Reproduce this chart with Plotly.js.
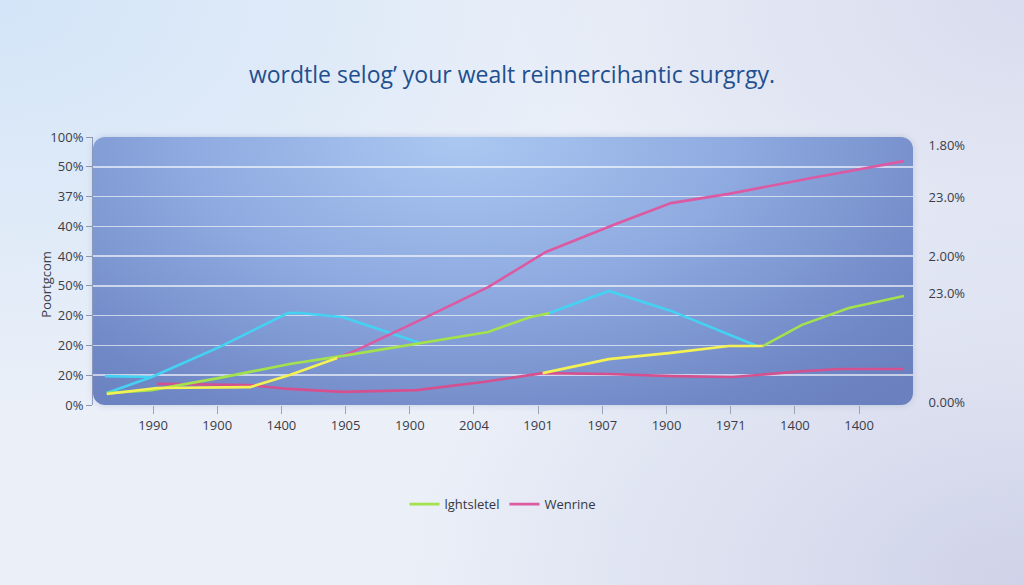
<!DOCTYPE html>
<html>
<head>
<meta charset="utf-8">
<script src="https://cdn.plot.ly/plotly-3.0.1.min.js"></script>
<style>
  html, body { margin: 0; padding: 0; }
  body {
    width: 1024px; height: 585px; overflow: hidden; position: relative;
    background:
      radial-gradient(ellipse 60% 70% at 0% 0%, #d3e5f8 0%, rgba(211,229,248,0) 100%),
      radial-gradient(ellipse 60% 70% at 100% 100%, #cfd2e8 0%, rgba(207,210,232,0) 100%),
      radial-gradient(ellipse 50% 60% at 100% 0%, #d9dcee 0%, rgba(217,220,238,0) 100%),
      #eaeff8;
  }
  #panel {
    position: absolute; border-radius: 12px;
    background: radial-gradient(ellipse 75% 130% at 45% 0%, #abc8f2 0%, #8eaae0 45%, #7088c6 85%, #6a80bf 100%);
    box-shadow: 0 0 6px rgba(90,110,170,0.25);
  }
  #chart { position: absolute; left: 0; top: 0; width: 1024px; height: 585px; }
</style>
</head>
<body>
<div id="panel"></div>
<div id="chart"></div>
<script>
// ── Axis labels ───────────────────────────────────────────────
var xTickLabels  = ['1990', '1900', '1400', '1905', '1900', '2004', '1901', '1907', '1900', '1971', '1400', '1400'];
var yTickLabels  = ['0%', '20%', '20%', '20%', '50%', '40%', '40%', '37%', '50%', '100%'];
var y2TickLabels = ['1.80%', '23.0%', '2.00%', '23.0%', '0.00%'];
var y2TickVals   = [8.72, 6.98, 5.0, 3.76, 0.1];

// ── Series (x in category steps, y in grid steps) ─────────────
var cyanX = [-0.75, -0.02, null, -0.72, -0.02, 1.04, 2.10, 2.29, 2.96, 4.16, null, 6.18, 7.10, 8.07, 9.41];
var cyanY = [0.97, 0.94, null, 0.40, 0.94, 1.95, 3.09, 3.09, 2.95, 2.08, null, 3.09, 3.83, 3.16, 1.98];

var greenX = [-0.72, -0.02, 1.04, 2.13, 2.96, 4.16, 5.22, 5.87, 6.18, null, 9.50, 10.11, 10.84, 11.70];
var greenY = [0.40, 0.50, 0.91, 1.38, 1.65, 2.08, 2.45, 2.95, 3.09, null, 1.98, 2.69, 3.26, 3.66];

var yellowX = [-0.72, 0.06, 1.51, 2.13, 2.87, null, 6.07, 7.10, 8.07, 8.97, 9.50];
var yellowY = [0.37, 0.57, 0.60, 1.01, 1.58, null, 1.07, 1.54, 1.75, 1.98, 1.98];

var pinkX = [2.87, 3.18, 4.16, 5.22, 6.12, 7.21, 8.07, 8.97, 10.26, 11.70];
var pinkY = [1.58, 1.85, 2.85, 3.96, 5.14, 6.08, 6.78, 7.09, 7.62, 8.19];

var pinkLowX = [0.06, 1.51, 2.10, 2.96, 4.11, 5.14, 6.07, 7.10, 8.08, 9.03, 10.16, 10.70, 11.70];
var pinkLowY = [0.71, 0.67, 0.54, 0.44, 0.50, 0.77, 1.07, 1.04, 0.97, 0.94, 1.14, 1.21, 1.21];

var C = { cyan: '#45d2f2', green: '#a3e24c', yellow: '#f4f252', pink: '#dc5aa2', pinkLow: '#d4508f' };

function line(x, y, color, name, show) {
    return { x: x, y: y, mode: 'lines', name: name || '', showlegend: !!show,
        connectgaps: false, line: { color: color, width: 2.6 }, hoverinfo: 'skip' };
}

var xTickVals = xTickLabels.map(function (_, i) { return i; });
var yTickVals = yTickLabels.map(function (_, i) { return i; });

var traces = [
    line(pinkLowX, pinkLowY, C.pinkLow),
    line(cyanX, cyanY, C.cyan),
    line(pinkX, pinkY, C.pink, 'Wenrine', true),
    line(greenX, greenY, C.green, 'lghtsletel', true),
    line(yellowX, yellowY, C.yellow),
    { x: [0], y: [0], yaxis: 'y2', mode: 'markers', marker: { opacity: 0 }, showlegend: false, hoverinfo: 'skip' }
];
traces[3].legendrank = 1;
traces[2].legendrank = 2;

var tickFont = { family: 'Open Sans, sans-serif', size: 13, color: '#3a3d48' };

var layout = {
    width: 1024, height: 585,
    paper_bgcolor: 'rgba(0,0,0,0)', plot_bgcolor: 'rgba(0,0,0,0)',
    margin: { l: 93, r: 111, t: 137, b: 180 },
    title: { text: 'wordtle selog\u2019 your wealt reinnercihantic surgrgy.',
        font: { family: 'Open Sans, sans-serif', size: 23, color: '#1f4f8f', weight: 500 },
        x: 0.5, xanchor: 'center', y: 0.872, yanchor: 'middle' },
    xaxis: { range: [-0.935, 11.84], tickvals: xTickVals, ticktext: xTickLabels,
        showgrid: false, zeroline: false, showline: false,
        ticks: 'outside', ticklen: 8, tickwidth: 1, tickcolor: '#9aa3b8',
        tickfont: tickFont, fixedrange: true },
    yaxis: { range: [0, 9], tickvals: yTickVals, ticktext: yTickLabels,
        showgrid: true, gridcolor: 'rgba(255,255,255,0.62)', gridwidth: 1.6,
        zeroline: false, showline: true, linecolor: 'rgba(80,95,140,0.55)', linewidth: 1,
        ticks: 'outside', ticklen: 6, tickwidth: 1, tickcolor: '#8c95ad',
        tickfont: tickFont, fixedrange: true },
    yaxis2: { range: [0, 9], overlaying: 'y', side: 'right', tickvals: y2TickVals, ticktext: y2TickLabels,
        showgrid: false, zeroline: false, showline: false,
        ticks: 'outside', ticklen: 12, tickcolor: 'rgba(0,0,0,0)',
        tickfont: tickFont, fixedrange: true },
    showlegend: true,
    legend: { orientation: 'h', x: 0.5, xanchor: 'center', y: -0.37, yanchor: 'middle',
        bgcolor: 'rgba(0,0,0,0)', font: { family: 'Open Sans, sans-serif', size: 13, color: '#333744' },
        itemwidth: 30, tracegroupgap: 0 },
    annotations: [
        { xref: 'paper', yref: 'paper', x: -0.057, y: 0.45, xanchor: 'center', yanchor: 'middle',
          text: 'Poortgcom', textangle: -90,
          showarrow: false, font: { family: 'Open Sans, sans-serif', size: 13, color: '#3a3d48' } }
    ]
};

Plotly.newPlot('chart', traces, layout, { displayModeBar: false, staticPlot: true }).then(function (gd) {
    var s = gd._fullLayout._size;
    var panel = document.getElementById('panel');
    panel.style.left = s.l + 'px';
    panel.style.top = s.t + 'px';
    panel.style.width = s.w + 'px';
    panel.style.height = s.h + 'px';
});
</script>
</body>
</html>
